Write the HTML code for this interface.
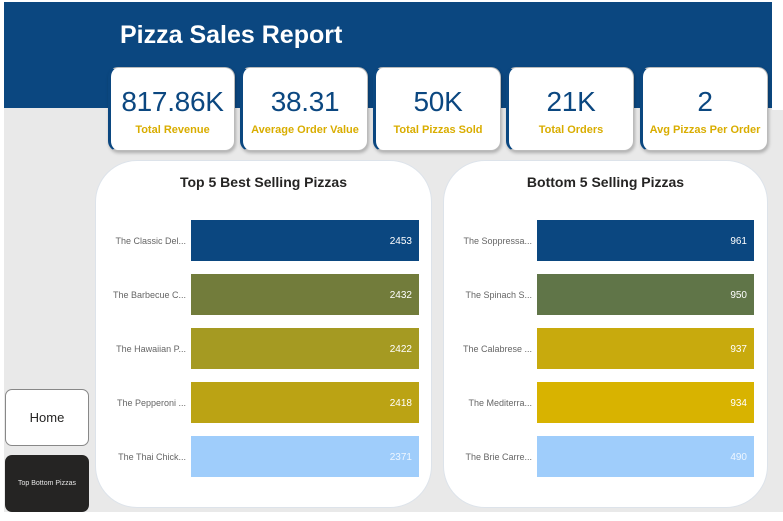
<!DOCTYPE html>
<html><head><meta charset="utf-8"><style>
*{margin:0;padding:0;box-sizing:border-box}
body{width:783px;height:521px;background:#fff;position:relative;overflow:hidden;font-family:"Liberation Sans",sans-serif}
.bg{position:absolute;left:4px;top:2px;width:779px;height:510px;background:#e9e9e9}
.hdr{position:absolute;left:4px;top:2px;width:768px;height:106px;background:#0b4780}
.title{position:absolute;left:120px;top:21px;color:#fff;font-size:25px;font-weight:bold}
.card{position:absolute;top:67px;height:84px;background:#fff;border-radius:10px;border:1px solid #bbb;border-left:3px solid #0b4780;box-shadow:1px 2px 3px rgba(0,0,0,.25);text-align:center}
.card .v{font-size:28px;color:#0b4780;margin-top:18px;line-height:32px;letter-spacing:-0.3px}
.card .l{font-size:11px;font-weight:bold;color:#d9ad00;margin-top:6px}
.panel{position:absolute;top:160px;height:348px;background:#fff;border-radius:42px;border:1px solid #dde3ea}
.ptitle{position:absolute;top:13px;width:100%;text-align:center;font-size:14px;font-weight:bold;color:#252423}
.btn{position:absolute;left:5px;width:84px;height:57px;border-radius:7px;display:flex;align-items:center;justify-content:center}
</style></head><body>
<div class="bg"></div>
<div style="position:absolute;left:772px;top:0;width:11px;height:110px;background:#fff"></div>
<div class="hdr"></div>
<div class="title">Pizza Sales Report</div>
<div class="card" style="left:108px;width:127px"><div class="v">817.86K</div><div class="l">Total Revenue</div></div>
<div class="card" style="left:240px;width:128px"><div class="v">38.31</div><div class="l">Average Order Value</div></div>
<div class="card" style="left:373px;width:128px"><div class="v">50K</div><div class="l">Total Pizzas Sold</div></div>
<div class="card" style="left:506px;width:128px"><div class="v">21K</div><div class="l">Total Orders</div></div>
<div class="card" style="left:640px;width:128px"><div class="v">2</div><div class="l">Avg Pizzas Per Order</div></div>
<div class="panel" style="left:95px;width:337px"><div class="ptitle">Top 5 Best Selling Pizzas</div></div>
<div class="panel" style="left:443px;width:325px"><div class="ptitle">Bottom 5 Selling Pizzas</div></div>
<svg id="chart" width="783" height="521" style="position:absolute;left:0;top:0"></svg>
<div class="btn" style="top:389px;background:#fff;border:1px solid #888;font-size:13px;color:#252423">Home</div>
<div class="btn" style="top:455px;background:#252423;font-size:7px;color:#e6e6e6">Top Bottom Pizzas</div>
<script>
const topCats=["The Classic Del...","The Barbecue C...","The Hawaiian P...","The Pepperoni ...","The Thai Chick..."];
const topVals=[2453,2432,2422,2418,2371];
const botCats=["The Soppressa...","The Spinach S...","The Calabrese ...","The Mediterra...","The Brie Carre..."];
const botVals=[961,950,937,934,490];
const topColors=["#0b4780","#727c3b","#a59a22","#bba314","#9fcdfb"];
const botColors=["#0b4780","#607548","#c8aa0d","#d8b300","#9fcdfb"];
const svg=document.getElementById('chart');
const NS="http://www.w3.org/2000/svg";
// 100% stacked bar: each bar's share of its category total
function draw(cats,vals,colors,x0,x1,labelX,prefix){
  const xs=s=>x0+s*(x1-x0);
  const ys=i=>220+i*54;
  cats.forEach((c,i)=>{
    const share=vals[i]/vals[i];
    const r=document.createElementNS(NS,'rect');
    r.setAttribute('x',x0);r.setAttribute('y',ys(i));
    r.setAttribute('width',xs(share)-x0);r.setAttribute('height',41);
    r.setAttribute('fill',colors[i]);
    
    
    svg.appendChild(r);
    const t=document.createElementNS(NS,'text');
    t.setAttribute('x',labelX);t.setAttribute('y',ys(i)+24);
    t.setAttribute('text-anchor','end');t.setAttribute('font-size','9');t.setAttribute('fill','#666');
    t.textContent=c;
    
    
    svg.appendChild(t);
    const v=document.createElementNS(NS,'text');
    v.setAttribute('x',xs(share)-7);v.setAttribute('y',ys(i)+24);
    v.setAttribute('text-anchor','end');v.setAttribute('font-size','10');
    v.setAttribute('fill',i==4?'#eef6ff':'#fff');
    v.textContent=vals[i];
    
    
    svg.appendChild(v);
  });
}
draw(topCats,topVals,topColors,191,419,186,'top5');
draw(botCats,botVals,botColors,537,754,532,'bottom5');
</script>
</body></html>
